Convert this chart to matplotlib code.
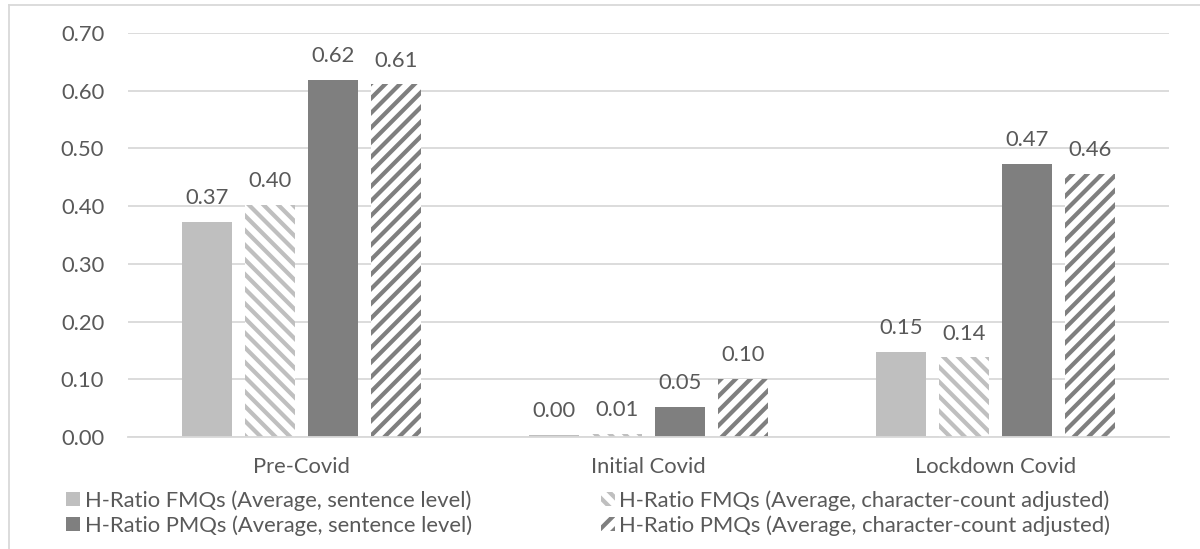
import matplotlib
matplotlib.use("Agg")
import matplotlib.pyplot as plt
from matplotlib.lines import Line2D
from matplotlib.patches import Patch
import numpy as np

# ---- data ----
categories = ["Pre-Covid", "Initial Covid", "Lockdown Covid"]
series_names = [
    "H-Ratio FMQs (Average, sentence level)",
    "H-Ratio FMQs (Average, character-count adjusted)",
    "H-Ratio PMQs (Average, sentence level)",
    "H-Ratio PMQs (Average, character-count adjusted)",
]
fmq_sentence = [0.373, 0.004, 0.147]
fmq_charcount = [0.402, 0.006, 0.138]
pmq_sentence = [0.619, 0.052, 0.473]
pmq_charcount = [0.611, 0.101, 0.456]
y_ticks = [0.0, 0.1, 0.2, 0.3, 0.4, 0.5, 0.6, 0.7]

series_values = [fmq_sentence, fmq_charcount, pmq_sentence, pmq_charcount]

# ---- style ----
DPI = 132
W, H = 1200, 549
LIGHT = "#BFBFBF"
DARK = "#7F7F7F"
TEXT = "#595959"
GRID = "#D9D9D9"
styles = [
    dict(color=LIGHT, hatch=None),
    dict(color=LIGHT, hatch="\\\\\\"),
    dict(color=DARK, hatch=None),
    dict(color=DARK, hatch="///"),
]

plt.rcParams["font.family"] = ["Lato", "DejaVu Sans"]
plt.rcParams["hatch.linewidth"] = 2.3
FS = 12

fig = plt.figure(figsize=(W / DPI, H / DPI), dpi=DPI)
ax = fig.add_axes([128 / W, 1 - 437 / H, (1169 - 128) / W, (437 - 33) / H])

x = np.arange(len(categories))
step = 0.1816
width = 0.144
handles = []
for k, (vals, st) in enumerate(zip(series_values, styles)):
    pos = x + (k - 1.5) * step
    if st["hatch"] is None:
        bars = ax.bar(pos, vals, width, color=st["color"], linewidth=0, zorder=2)
        h = Patch(facecolor=st["color"], edgecolor="none")
    else:
        bars = ax.bar(pos, vals, width, facecolor="white", edgecolor=st["color"],
                      hatch=st["hatch"], linewidth=0, zorder=2)
        h = Patch(facecolor="white", edgecolor=st["color"], hatch=st["hatch"], linewidth=0)
    handles.append(h)
    for b, v in zip(bars, vals):
        ax.annotate(f"{v:.2f}", (b.get_x() + b.get_width() / 2, v),
                    xytext=(0, 7.5), textcoords="offset points",
                    ha="center", va="bottom", fontsize=FS, color=TEXT)

ax.set_xlim(-0.5, len(categories) - 0.5)
ax.set_ylim(0, 0.7)
ax.set_yticks(y_ticks)
ax.set_yticklabels([f"{t:.2f}" for t in y_ticks])
ax.set_xticks(x)
ax.set_xticklabels(categories)
ax.tick_params(axis="both", length=0, labelsize=FS, labelcolor=TEXT)
ax.tick_params(axis="y", pad=13)
ax.tick_params(axis="x", pad=11)
ax.yaxis.grid(True, color=GRID, linewidth=1.0, zorder=0)
ax.set_axisbelow(True)
for s in ["top", "right", "left"]:
    ax.spines[s].set_visible(False)
ax.spines["bottom"].set_color(GRID)
ax.spines["bottom"].set_linewidth(1.0)

# legend: two columns, rows FMQs then PMQs
order = [0, 2, 1, 3]
leg = fig.legend([handles[i] for i in order], [series_names[i] for i in order],
                 ncol=2, loc="upper left", bbox_to_anchor=(66 / W, 1 - 490 / H),
                 frameon=False, fontsize=FS, labelcolor=TEXT,
                 handlelength=0.65, handleheight=0.65, handletextpad=0.2,
                 columnspacing=5.85, labelspacing=0.2, borderaxespad=0, borderpad=0)

# chart frame (top and left edges)
fig.add_artist(Line2D([9 / W, 1.0], [1 - 5 / H, 1 - 5 / H], color=GRID, linewidth=1.0))
fig.add_artist(Line2D([9 / W, 9 / W], [0.0, 1 - 5 / H], color=GRID, linewidth=1.0))

fig.savefig("out.png", dpi=DPI, facecolor="white")
